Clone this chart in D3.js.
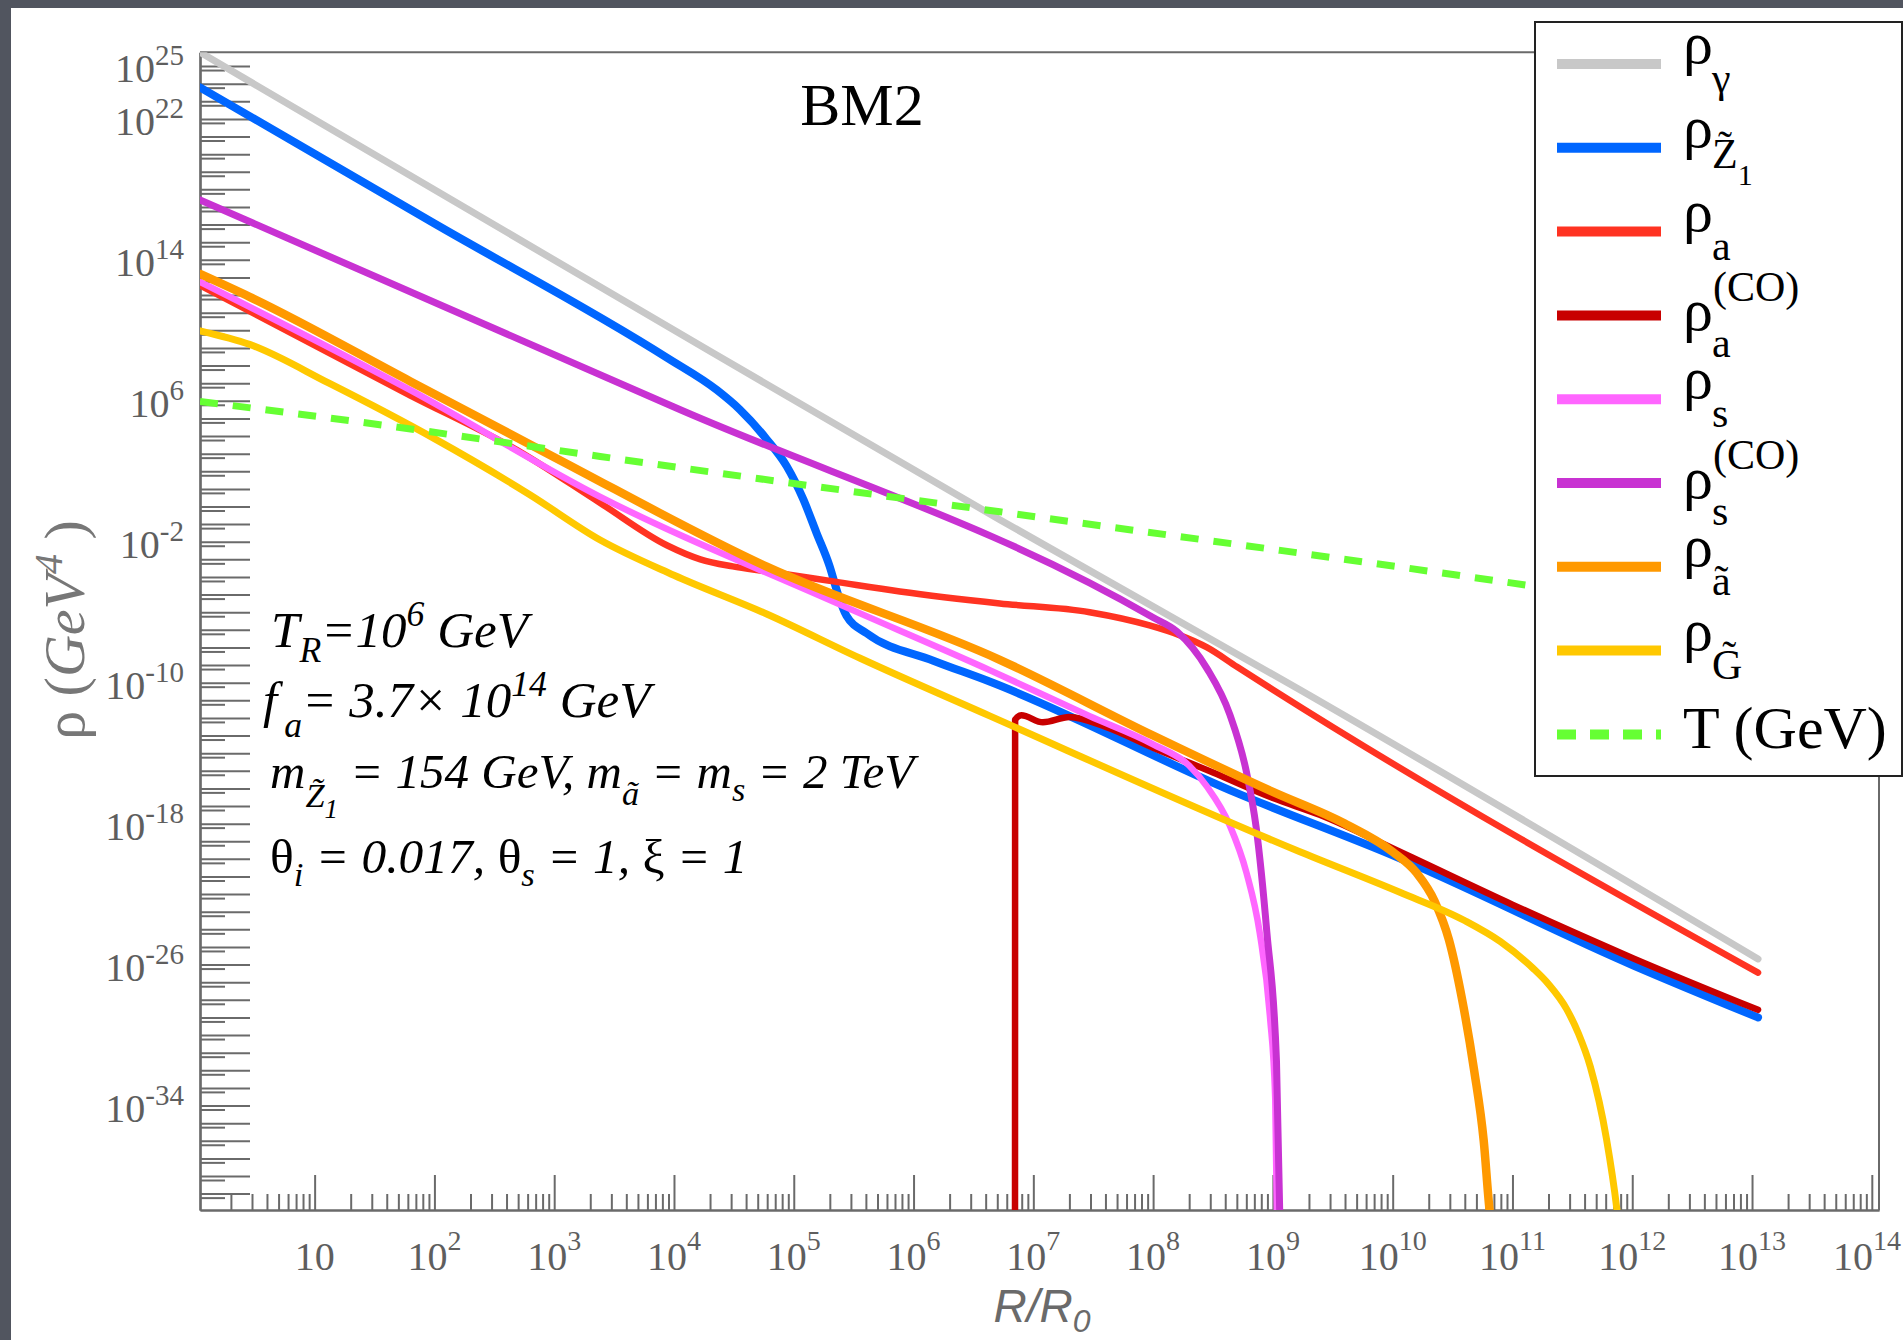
<!DOCTYPE html>
<html><head><meta charset="utf-8">
<script src="https://cdn.jsdelivr.net/npm/d3@7/dist/d3.min.js"></script>
<style>
html,body{margin:0;padding:0;background:#51555f;}
svg{display:block;}
</style></head><body>
<svg id="chart" width="1903" height="1340"></svg>
<script>
// ---------- DATA (log10 R/R0, log10 value) ----------
const xDomainExp = [0.043, 14.06];
const yDomainExp = [-39.93, 25.78];
const xTickExps = [1,2,3,4,5,6,7,8,9,10,11,12,13,14];
const yLabelExps = [25,22,14,6,-2,-10,-18,-26,-34];

const rhoGamma = [[0.043,25.78],[3.55,11.8],[6.72,-0.75],[9.225,-10.4],[13.05,-25.68]];
const rhoZ1 = [[0.043,23.79],[2.0,16.06],[3.94,8.45],[4.36,6.6],[4.55,5.5],[4.77,3.85],[4.94,2.3],[5.08,0.4],[5.19,-1.5],[5.30,-3.4],[5.37,-5.0],[5.44,-6.2],[5.61,-7.2],[6.165,-8.75],[6.64,-9.95],[8.71,-16.3],[10.0,-19.8],[12.01,-26.05],[13.05,-29.0]];
const rhoA = [[0.043,12.55],[1.8,6.3],[2.69,3.2],[3.384,0.2],[3.94,-2.2],[4.22,-3.0],[4.49,-3.4],[4.77,-3.68],[5.33,-4.25],[5.886,-4.82],[6.72,-5.5],[7.47,-6.0],[7.97,-6.75],[8.22,-7.3],[8.45,-8.0],[8.7,-9.1],[9.0,-10.4],[13.05,-26.46]];
const rhoACO = [[6.847,-41],[6.848,-12.1],[6.9,-11.85],[7.08,-12.25],[7.3,-11.95],[7.6,-12.5],[8.0,-13.7],[8.5,-15.1],[9.0,-16.55],[9.39,-17.5],[10.06,-19.6],[11.0,-22.6],[12.01,-25.65],[13.05,-28.57]];
const rhoS = [[0.043,12.75],[1.8,6.6],[3.384,0.55],[5.33,-5.4],[6.64,-9.3],[7.47,-11.9],[8.0,-13.5],[8.3,-14.7],[8.45,-15.9],[8.64,-18.1],[8.78,-20.8],[8.89,-24.2],[8.975,-28.9],[9.02,-33.7],[9.035,-41]];
const rhoSCO = [[0.043,17.4],[4.0,5.65],[8.0,-6.3],[8.2,-7.1],[8.45,-9.2],[8.64,-11.8],[8.78,-15.1],[8.86,-18.2],[8.95,-24.2],[9.03,-31.5],[9.06,-41]];
const rhoAtilde = [[0.043,13.2],[0.457,11.9],[1.8,7.1],[3.0,2.8],[4.77,-3.4],[6.72,-8.7],[8.0,-13.0],[9.0,-16.2],[9.6,-18.0],[10.0,-19.6],[10.2,-20.8],[10.35,-22.4],[10.47,-24.6],[10.58,-28.0],[10.68,-32.0],[10.76,-36.0],[10.81,-40],[10.83,-41]];
const rhoGtilde = [[0.043,9.97],[0.457,9.2],[1.12,7.0],[2.0,3.85],[2.79,0.7],[3.384,-1.9],[4.0,-3.9],[4.774,-6.1],[5.55,-8.6],[6.64,-11.9],[9.225,-19.6],[10.06,-21.9],[10.6,-23.5],[10.9,-24.7],[11.17,-26.2],[11.3,-27.1],[11.45,-28.5],[11.55,-29.9],[11.65,-31.8],[11.785,-35.9],[11.87,-39.8],[11.89,-41]];
const temperature = [[0.043,5.96],[1.59,4.6],[3.384,2.84],[6.72,-0.3],[10.9,-4.25],[13.05,-6.4]];

const seriesData = [rhoGamma, rhoZ1, rhoA, rhoACO, rhoS, rhoSCO, rhoAtilde, rhoGtilde, temperature];
const seriesColors = ['#c8c8c8','#0066ff','#ff3322','#c80000','#ff66ff','#c832d2','#ff9900','#ffc800','#66ff33'];
const seriesWidths = [7,8,6.5,6.5,6.5,7,8.5,7,7];
const legendSubs = ['γ','Z̃','a','a','s','s','ã','G̃',null];
const legendSups = [null,null,null,'(CO)',null,'(CO)',null,null,null];

// ---------- SETUP ----------
const W = 1903, H = 1340;
const svg = d3.select('#chart');
svg.append('rect').attr('width', W).attr('height', H).attr('fill', '#51555f');
svg.append('rect').attr('x', 11).attr('y', 8).attr('width', W - 11).attr('height', H - 8).attr('fill', '#ffffff');

const P = {left: 200, right: 1879, top: 52.3, bottom: 1210};
const x = d3.scaleLog().domain([10 ** xDomainExp[0], 10 ** xDomainExp[1]]).range([P.left, P.right]);
const y = d3.scaleLog().domain([10 ** yDomainExp[0], 10 ** yDomainExp[1]]).range([P.bottom, P.top]);

const serif = "'Liberation Serif','Times New Roman','DejaVu Serif',serif";
const sans = "'Liberation Sans',Arial,sans-serif";
const axisGray = '#6a6a6a';
const labelGray = '#5e5e5e';

// ---------- AXES ----------
const frame = svg.append('g');
frame.append('line').attr('x1', P.left).attr('x2', P.right).attr('y1', P.top).attr('y2', P.top)
  .attr('stroke', axisGray).attr('stroke-width', 2);
frame.append('line').attr('x1', P.right).attr('x2', P.right).attr('y1', P.top).attr('y2', P.bottom)
  .attr('stroke', axisGray).attr('stroke-width', 2);

const xMajor = d3.range(1, 15).map(e => 10 ** e);
const xMinor = [];
for (let e = 0; e <= 14; e++) for (let m = 2; m <= 9; m++) { const v = m * 10 ** e; if (v >= x.domain()[0] && v <= x.domain()[1]) xMinor.push(v); }
const styleAxis = g => { g.select('.domain').attr('stroke', axisGray).attr('stroke-width', 2.2);
  g.selectAll('.tick line').attr('stroke', axisGray).attr('stroke-width', 2); g.selectAll('.tick text').remove(); };
svg.append('g').attr('transform', `translate(0,${P.bottom})`)
  .call(d3.axisBottom(x).tickValues(xMinor).tickSize(-16).tickSizeOuter(0).tickFormat('')).call(styleAxis);
svg.append('g').attr('transform', `translate(0,${P.bottom})`)
  .call(d3.axisBottom(x).tickValues(xMajor).tickSize(-35).tickSizeOuter(0).tickFormat('')).call(styleAxis);

const yMajor = d3.range(-39, 26).map(e => 10 ** e);
const yShort = d3.range(-39, 26).map(e => 10 ** (e - 0.227));
svg.append('g').attr('transform', `translate(${P.left},0)`)
  .call(d3.axisLeft(y).tickValues(yShort).tickSize(-25).tickSizeOuter(0).tickFormat('')).call(styleAxis);
svg.append('g').attr('transform', `translate(${P.left},0)`)
  .call(d3.axisLeft(y).tickValues(yMajor).tickSize(-50).tickSizeOuter(0).tickFormat('')).call(styleAxis);

// x labels
xTickExps.forEach(e => {
  const xc = Math.min(x(10 ** e), W - 36);
  const t = svg.append('text').attr('x', xc).attr('y', 1270).attr('text-anchor', 'middle')
    .attr('font-family', serif).attr('font-size', 40).attr('fill', labelGray).text('10');
  if (e > 1) t.append('tspan').attr('dy', -20).attr('font-size', 28).text(e);
});
// y labels
yLabelExps.forEach(e => {
  const t = svg.append('text').attr('x', 184).attr('y', y(10 ** e) + 16).attr('text-anchor', 'end')
    .attr('font-family', serif).attr('font-size', 40).attr('fill', labelGray).text('10');
  t.append('tspan').attr('dy', -17).attr('font-size', 29).text(String(e));
});

// axis titles
const xt = svg.append('text').attr('x', 1042).attr('y', 1322).attr('text-anchor', 'middle')
  .attr('font-family', sans).attr('font-style', 'italic').attr('font-size', 46).attr('fill', axisGray).text('R/R');
xt.append('tspan').attr('dy', 10).attr('font-size', 32).text('0');

const yt = svg.append('text').attr('transform', 'translate(84,630) rotate(-90)').attr('text-anchor', 'middle')
  .attr('font-family', serif).attr('font-size', 58).attr('fill', '#777');
yt.append('tspan').text('ρ (');
yt.append('tspan').attr('font-style', 'italic').text('GeV');
yt.append('tspan').attr('font-style', 'italic').attr('dy', -22).attr('font-size', 40).text('4');
yt.append('tspan').attr('dy', 22).text(' )');

// ---------- CURVES ----------
svg.append('clipPath').attr('id', 'clip').append('rect')
  .attr('x', P.left).attr('y', P.top).attr('width', P.right - P.left).attr('height', P.bottom - P.top);
const line = d3.line().x(d => x(10 ** d[0])).y(d => y(10 ** d[1])).curve(d3.curveMonotoneX);
const curves = svg.append('g').attr('clip-path', 'url(#clip)');
seriesData.forEach((s, i) => {
  curves.append('path').attr('d', line(s)).attr('fill', 'none')
    .attr('stroke', seriesColors[i]).attr('stroke-width', seriesWidths[i])
    .attr('stroke-linejoin', 'round').attr('stroke-linecap', i === 8 ? 'butt' : 'round')
    .attr('stroke-dasharray', i === 8 ? '18,15' : null);
});

// ---------- TITLE & ANNOTATION ----------
svg.append('text').attr('x', 862).attr('y', 125).attr('text-anchor', 'middle')
  .attr('font-family', serif).attr('font-size', 60).attr('fill', '#000').text('BM2');

function rich(xp, yp, parts, fs) {
  const t = svg.append('text').attr('x', xp).attr('y', yp).attr('font-family', serif)
    .attr('font-size', fs).attr('font-style', 'italic').attr('fill', '#000');
  let cur = 0;
  parts.forEach(p => {
    let shift = 0, size = fs;
    if (p.s === 'sub') { shift = p.sh !== undefined ? p.sh : 0.3 * fs; size = 0.7 * fs; }
    if (p.s === 'sup') { shift = -0.42 * fs; size = 0.7 * fs; }
    if (p.s === 'subsub') { shift = 0.62 * fs; size = 0.55 * fs; }
    const ts = t.append('tspan').attr('font-size', size).text(p.t);
    if (shift - cur !== 0) ts.attr('dy', shift - cur);
    if (p.up) ts.attr('font-style', 'normal');
    cur = shift;
  });
}
rich(271, 647, [{t:'T'},{t:'R',s:'sub'},{t:'=10'},{t:'6',s:'sup'},{t:' GeV'}], 51);
rich(263, 717, [{t:'f'},{t:'\u2009a',s:'sub',sh:20},{t:'= 3.7× 10'},{t:'14',s:'sup'},{t:' GeV'}], 51);
rich(270, 788, [{t:'m'},{t:'Z̃',s:'sub',sh:19},{t:'1',s:'subsub'},{t:' = 154 GeV, m'},{t:'ã',s:'sub',sh:17},{t:' = m'},{t:'s',s:'sub',sh:13},{t:' = 2 TeV'}], 49);
rich(270, 873, [{t:'θ',up:true},{t:'i',s:'sub',sh:13},{t:' = 0.017, '},{t:'θ',up:true},{t:'s',s:'sub',sh:13},{t:' = 1, '},{t:'ξ',up:true},{t:' = 1'}], 49.5);

// ---------- LEGEND ----------
const L = {x: 1535, y: 22, w: 367, h: 754};
const lg = svg.append('g');
lg.append('rect').attr('x', L.x).attr('y', L.y).attr('width', L.w).attr('height', L.h)
  .attr('fill', '#fff').attr('stroke', '#222').attr('stroke-width', 2);
const rowY = d3.range(9).map(i => 64 + i * 83.8);
seriesColors.forEach((c, i) => {
  const ry = rowY[i];
  lg.append('line').attr('x1', 1557).attr('x2', 1661).attr('y1', ry).attr('y2', ry)
    .attr('stroke', c).attr('stroke-width', 10).attr('stroke-dasharray', i === 8 ? '19,14' : null);
  if (i === 8) {
    lg.append('text').attr('x', 1683).attr('y', ry + 14).attr('font-family', serif).attr('font-size', 60)
      .attr('fill', '#000').text('T (GeV)');
    return;
  }
  const hasSup = !!legendSups[i];
  const base = hasSup ? ry + 15 : ry - 1;
  lg.append('text').attr('x', 1683).attr('y', base).attr('font-family', serif).attr('font-size', 60)
    .attr('fill', '#000').text('ρ');
  if (hasSup) lg.append('text').attr('x', 1713).attr('y', ry - 14).attr('font-family', serif)
    .attr('font-size', 42).attr('fill', '#000').text(legendSups[i]);
  const subY = hasSup ? ry + 42 : (i === 1 ? ry + 20 : ry + 28);
  const st = lg.append('text').attr('x', 1712).attr('y', subY).attr('font-family', serif)
    .attr('font-size', 42).attr('fill', '#000').text(legendSubs[i]);
  if (i === 1) st.append('tspan').attr('dy', 17).attr('font-size', 30).text('1');
});
</script>
</body></html>
